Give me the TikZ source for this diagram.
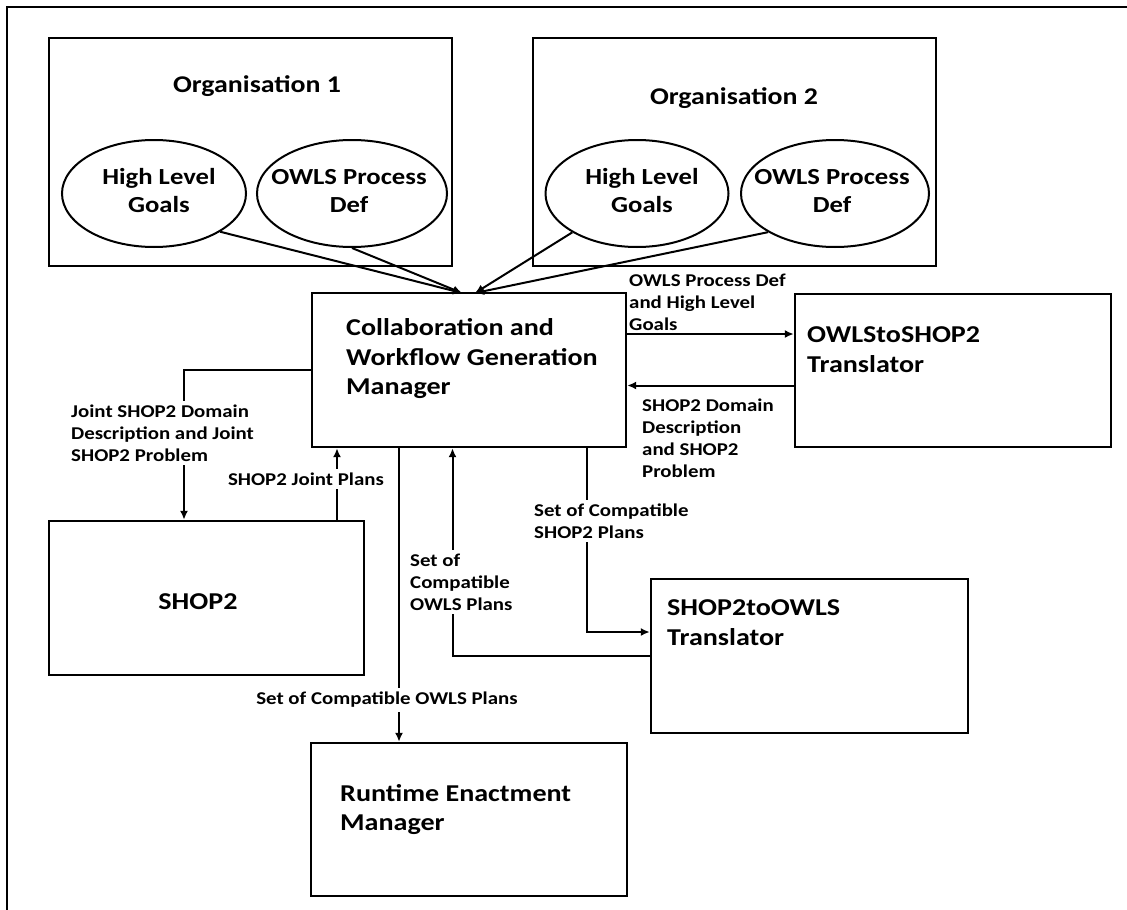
\documentclass[tikz,border=0pt]{standalone}
\usepackage{fontspec}
\setmainfont{Carlito}[FakeStretch=1.16]
\usetikzlibrary{arrows.meta, shapes.geometric}

\begin{document}
\begin{tikzpicture}[x=1pt, y=-1pt,
    boxStyle/.style={rectangle, draw, line width=2.4pt, inner sep=0pt},
    ovalStyle/.style={ellipse, draw, line width=2pt, inner sep=0pt},
    titleStyle/.style={font={\fontsize{24}{29.5}\selectfont\bfseries}},
    ovalText/.style={align=center, font={\fontsize{23}{28}\selectfont\bfseries}},
    boxText/.style={anchor=west, align=left, inner sep=0pt, font={\fontsize{24.2}{29.5}\selectfont\bfseries}},
    labelStyle/.style={align=left, fill=white, inner sep=4pt, font={\fontsize{18}{22}\selectfont\bfseries}},
    flowStyle/.style={line width=2pt, -{Latex[length=9pt, width=8pt]}}]
    \useasboundingbox (0,0) rectangle (1127,910);
    \draw[line width=1.5pt] (1127,7) -- (7,7) -- (7,910);

    % organisations
    \node[boxStyle, minimum width=403, minimum height=228] (org1) at (250.5,152) {};
    \node[titleStyle] (org1_t) at (257,86) {Organisation 1};
    \node[ovalStyle, minimum width=184, minimum height=107] (org1_hl) at (154,193.5) {};
    \node[ovalText] (org1_hl_t) at (159,191) {High Level\\Goals};
    \node[ovalStyle, minimum width=190, minimum height=107] (org1_ow) at (352,193.5) {};
    \node[ovalText] (org1_ow_t) at (349,191) {OWLS Process\\Def};

    \node[boxStyle, minimum width=403, minimum height=228] (org2) at (734.5,152) {};
    \node[titleStyle] (org2_t) at (734,98) {Organisation 2};
    \node[ovalStyle, minimum width=183, minimum height=107] (org2_hl) at (637,193.5) {};
    \node[ovalText] (org2_hl_t) at (642,191) {High Level\\Goals};
    \node[ovalStyle, minimum width=188, minimum height=107] (org2_ow) at (835,193.5) {};
    \node[ovalText] (org2_ow_t) at (832,191) {OWLS Process\\Def};

    % components
    \node[boxStyle, minimum width=314, minimum height=154] (cwgm) at (469,370) {};
    \node[boxText] (cwgm_t) at (346,359) {Collaboration and\\Workflow Generation\\Manager};
    \node[boxStyle, minimum width=316, minimum height=153] (o2s) at (953,370.5) {};
    \node[boxText] (o2s_t) at (807,349.5) {OWLStoSHOP2\\Translator};
    \node[boxStyle, minimum width=315, minimum height=154] (shop2) at (206.5,598) {};
    \node[boxText, anchor=center] (shop2_t) at (198,602) {SHOP2};
    \node[boxStyle, minimum width=317, minimum height=154] (s2o) at (809.5,656) {};
    \node[boxText] (s2o_t) at (667,622.5) {SHOP2toOWLS\\Translator};
    \node[boxStyle, minimum width=316, minimum height=153] (rem) at (469,819.5) {};
    \node[boxText] (rem_t) at (340,809.5) {Runtime Enactment\\Manager};

    \coordinate (hubL) at (462,293);
    \coordinate (hubR) at (475,293);

    % flows
    \draw[flowStyle] (org1_hl.-30) -- (hubL);
    \draw[flowStyle] (org1_ow.-90) -- (hubL);
    \draw[flowStyle] (org2_hl.-149) -- (hubR);
    \draw[flowStyle] (org2_ow.-150) -- (hubR);

    \draw[flowStyle] ([yshift=36pt]cwgm.east) -- ([yshift=36pt]cwgm.east -| o2s.west);
    \node[labelStyle, fill=none, anchor=west, inner sep=0pt] (l_owls) at (629,302) {OWLS Process Def\\and High Level\\Goals};
    \draw[flowStyle] ([yshift=-15pt]o2s.west) -- ([yshift=-15pt]o2s.west -| cwgm.east);
    \node[labelStyle, fill=none, anchor=west, inner sep=0pt] (l_dom) at (642,438) {SHOP2 Domain\\Description\\and SHOP2\\Problem};

    \draw[flowStyle] (cwgm.west) -| ([xshift=-22.5pt]shop2.north);
    \node[labelStyle, anchor=west] (l_joint) at (67,433) {Joint SHOP2 Domain\\Description and Joint\\SHOP2 Problem};
    \draw[flowStyle] ([xshift=130.5pt]shop2.north) -- ([xshift=130.5pt]shop2.north |- cwgm.south);
    \node[labelStyle] (l_jplans) at (306,479) {SHOP2 Joint Plans};

    \draw[flowStyle] ([xshift=-70pt]cwgm.south) -- ([xshift=-70pt]rem.north);
    \node[labelStyle] (l_rem) at (387,700) {Set of Compatible OWLS Plans};

    \draw[flowStyle] ([xshift=118pt]cwgm.south) |- ([yshift=24pt]s2o.west);
    \node[labelStyle, anchor=west] (l_shop) at (530,521) {Set of Compatible\\SHOP2 Plans};
    \draw[flowStyle] (s2o.west) -| ([xshift=-16.5pt]cwgm.south);
    \node[labelStyle, anchor=west] (l_owlsp) at (406,582) {Set of\\Compatible\\OWLS Plans};
\end{tikzpicture}
\end{document}
